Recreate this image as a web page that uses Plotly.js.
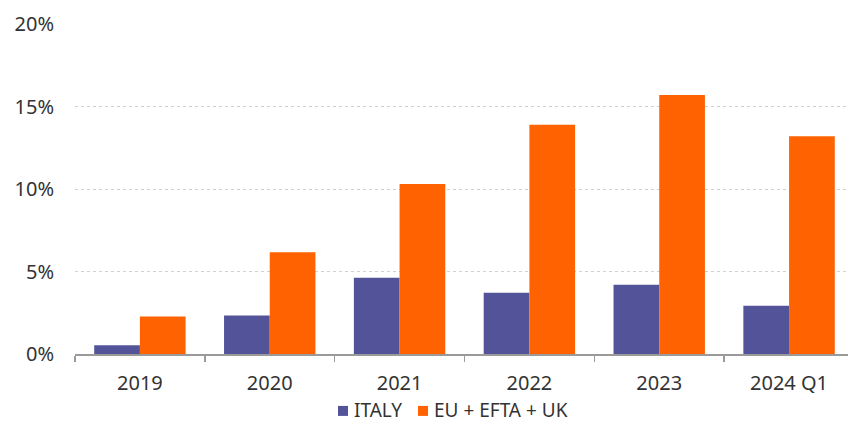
<!DOCTYPE html>
<html>
<head>
<meta charset="utf-8">
<script src="https://cdn.plot.ly/plotly-3.0.1.min.js"></script>
<style>html,body{margin:0;padding:0;background:#fff;}#chart{width:848px;height:423px;}</style>
</head>
<body>
<div id="chart"></div>
<script>
const categories = ["2019", "2020", "2021", "2022", "2023", "2024 Q1"];
const italy = [0.53, 2.34, 4.62, 3.71, 4.20, 2.92];
const euEftaUk = [2.28, 6.17, 10.30, 13.90, 15.70, 13.20];
const yTicks = [0, 5, 10, 15, 20];
const yTickLabels = ["0%", "5%", "10%", "15%", "20%"];
const seriesNames = ["ITALY", "EU + EFTA + UK"];
const seriesColors = ["#535399", "#FF6200"];

const fam = "Noto Sans, Open Sans, sans-serif";
const txtColor = "#333333";

const data = [
  {type: "bar", name: seriesNames[0], x: categories, y: italy, marker: {color: seriesColors[0]}},
  {type: "bar", name: seriesNames[1], x: categories, y: euEftaUk, marker: {color: seriesColors[1]}}
];

// legend drawn as paper-referenced squares + labels (pixel -> paper helpers)
const L = 75, W = 773, B = 354, H = 330.5;
const px = v => (v - L) / W;
const py = v => (B - v) / H;
const legendItems = [
  {sq: [338, 348], tx: 352},
  {sq: [418, 428], tx: 432}
];
const legendY = 410.5;
const shapes = legendItems.map((it, i) => ({
  type: "rect", xref: "paper", yref: "paper",
  x0: px(it.sq[0]), x1: px(it.sq[1]), y0: py(legendY + 5.5), y1: py(legendY - 4.5),
  fillcolor: seriesColors[i], line: {width: 0}
}));
const annotations = legendItems.map((it, i) => ({
  xref: "paper", yref: "paper", x: px(it.tx), y: py(legendY),
  xanchor: "left", yanchor: "middle", showarrow: false,
  text: seriesNames[i], font: {family: fam, size: 19, color: txtColor}
}));

const layout = {
  width: 848, height: 423,
  margin: {l: 75, r: 0, t: 23.5, b: 69},
  paper_bgcolor: "#ffffff", plot_bgcolor: "#ffffff",
  font: {family: fam, size: 20, color: txtColor},
  barmode: "group", bargap: 0.296, bargroupgap: 0,
  showlegend: false,
  shapes: shapes,
  annotations: annotations,
  xaxis: {
    type: "category", range: [-0.5, 5.454],
    showgrid: false, showline: true, linecolor: "#9a9a9a", linewidth: 1.5,
    ticks: "outside", tickson: "boundaries", ticklen: 6, tickcolor: "#9a9a9a", tickwidth: 1.5,
    tickfont: {family: fam, size: 20, color: txtColor},
    ticklabelstandoff: 10, zeroline: false, fixedrange: true
  },
  yaxis: {
    range: [0, 20], tickvals: yTicks, ticktext: yTickLabels,
    showgrid: true, gridcolor: "#d0d0d0", griddash: "dot", gridwidth: 1,
    zeroline: false, showline: false, ticks: "",
    tickfont: {family: fam, size: 20, color: txtColor},
    ticklabelstandoff: 20, fixedrange: true
  }
};

Plotly.newPlot("chart", data, layout, {displayModeBar: false, staticPlot: true});
</script>
</body>
</html>
